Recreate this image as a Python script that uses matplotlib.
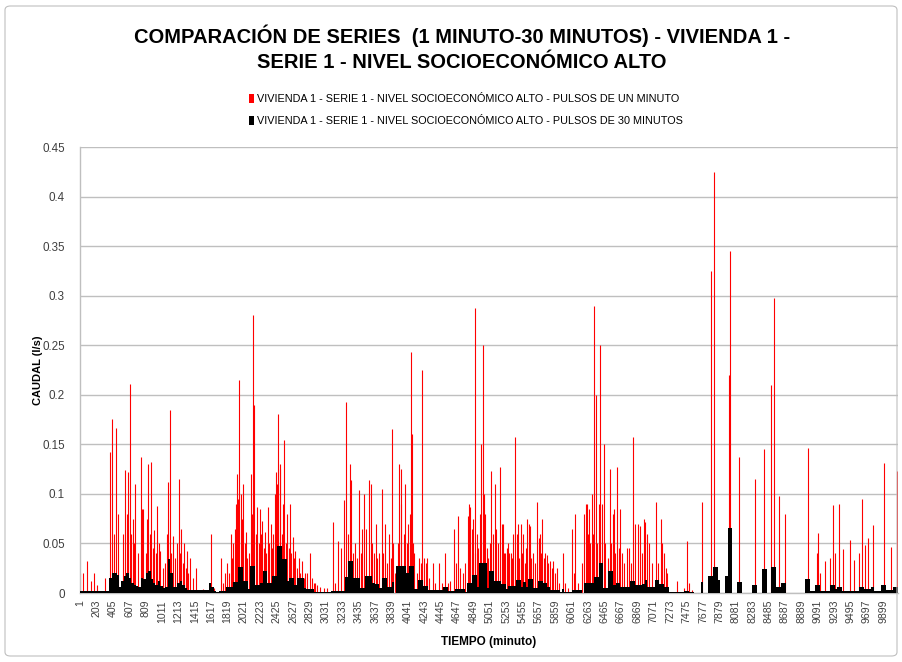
import matplotlib
matplotlib.use("Agg")
import matplotlib.pyplot as plt
from matplotlib.patches import Patch, FancyBboxPatch
from matplotlib import font_manager
import numpy as np

# --- data -----------------------------------------------------------------
n_minutes = 10080
tick_start, tick_step = 1, 202

# one-minute pulses: minute index and flow (l/s)
red_minutes = [
    1, 42, 92, 133, 175, 215, 311, 373, 397, 414, 443, 463, 525, 554, 580, 592,
    612, 633, 649, 666, 682, 716, 748, 765, 782, 810, 827, 844, 865, 881, 902,
    918, 939, 955, 971, 988, 1021, 1042, 1075, 1091, 1104, 1124, 1145, 1169,
    1191, 1219, 1236, 1249, 1265, 1281, 1302, 1318, 1335, 1352, 1393, 1434,
    1517, 1620, 1653, 1744, 1764, 1785, 1814, 1835, 1856, 1872, 1888, 1905,
    1921, 1938, 1950, 1963, 1980, 1996, 2012, 2029, 2046, 2062, 2087, 2108,
    2124, 2136, 2148, 2165, 2186, 2202, 2219, 2235, 2248, 2265, 2281, 2297,
    2314, 2331, 2351, 2368, 2384, 2401, 2413, 2430, 2446, 2459, 2467, 2488,
    2500, 2516, 2533, 2550, 2570, 2587, 2603, 2620, 2637, 2653, 2674, 2694,
    2715, 2736, 2764, 2776, 2797, 2830, 2859, 2880, 2900, 2921, 2962, 3003,
    3045, 3115, 3148, 3181, 3218, 3251, 3280, 3305, 3325, 3342, 3367, 3387,
    3408, 3437, 3458, 3479, 3499, 3528, 3557, 3582, 3602, 3623, 3644, 3665,
    3685, 3718, 3739, 3759, 3780, 3805, 3830, 3846, 3863, 3883, 3913, 3932,
    3950, 3962, 3987, 4007, 4028, 4044, 4065, 4077, 4090, 4106, 4118, 4152,
    4180, 4201, 4218, 4243, 4259, 4276, 4304, 4346, 4379, 4421, 4458, 4503,
    4532, 4565, 4614, 4639, 4664, 4689, 4718, 4750, 4780, 4800, 4812, 4833,
    4849, 4862, 4874, 4891, 4903, 4924, 4945, 4965, 4978, 4994, 5010, 5027,
    5048, 5069, 5089, 5110, 5131, 5151, 5180, 5196, 5213, 5225, 5242, 5258,
    5275, 5291, 5308, 5325, 5337, 5366, 5382, 5399, 5415, 5432, 5449, 5461,
    5481, 5502, 5514, 5531, 5543, 5564, 5585, 5605, 5638, 5655, 5667, 5680,
    5697, 5713, 5729, 5750, 5771, 5791, 5812, 5833, 5853, 5874, 5903, 5957,
    5977, 6019, 6068, 6085, 6101, 6143, 6192, 6217, 6233, 6250, 6262, 6275,
    6291, 6308, 6320, 6332, 6357, 6374, 6390, 6411, 6432, 6452, 6473, 6502,
    6527, 6547, 6564, 6576, 6597, 6622, 6639, 6659, 6680, 6709, 6742, 6771,
    6796, 6820, 6845, 6874, 6899, 6928, 6948, 6969, 6990, 7011, 7052, 7093,
    7126, 7155, 7175, 7196, 7216, 7237, 7352, 7443, 7476, 7505, 7546, 7670,
    7782, 7810, 7992, 8008, 8124, 8318, 8435, 8517, 8554, 8620, 8682, 8971,
    9078, 9091, 9120, 9182, 9244, 9277, 9306, 9359, 9401, 9483, 9537, 9599,
    9632, 9670, 9711, 9773, 9909, 9991, 10074,
]
red_values = [
    0.020, 0.020, 0.032, 0.012, 0.020, 0.008, 0.015, 0.142, 0.176, 0.060, 0.166,
    0.080, 0.060, 0.124, 0.080, 0.122, 0.211, 0.060, 0.075, 0.050, 0.110,
    0.040, 0.137, 0.085, 0.085, 0.040, 0.075, 0.130, 0.060, 0.132, 0.045,
    0.064, 0.040, 0.088, 0.050, 0.042, 0.025, 0.030, 0.060, 0.112, 0.185,
    0.040, 0.058, 0.035, 0.050, 0.115, 0.040, 0.065, 0.030, 0.050, 0.025,
    0.042, 0.020, 0.035, 0.015, 0.025, 0.004, 0.060, 0.005, 0.035, 0.010,
    0.020, 0.030, 0.020, 0.060, 0.035, 0.050, 0.065, 0.090, 0.120, 0.095,
    0.215, 0.100, 0.075, 0.110, 0.050, 0.062, 0.035, 0.040, 0.120, 0.080,
    0.280, 0.190, 0.060, 0.087, 0.050, 0.085, 0.060, 0.073, 0.045, 0.062,
    0.040, 0.087, 0.050, 0.070, 0.045, 0.060, 0.100, 0.122, 0.110, 0.181,
    0.130, 0.125, 0.060, 0.090, 0.154, 0.050, 0.080, 0.045, 0.090, 0.040,
    0.056, 0.035, 0.042, 0.025, 0.035, 0.020, 0.032, 0.015, 0.020, 0.020,
    0.040, 0.015, 0.010, 0.010, 0.008, 0.006, 0.005, 0.005, 0.072, 0.010,
    0.052, 0.045, 0.094, 0.193, 0.060, 0.130, 0.114, 0.040, 0.050, 0.035,
    0.104, 0.040, 0.065, 0.100, 0.065, 0.114, 0.110, 0.050, 0.040, 0.070,
    0.035, 0.040, 0.105, 0.040, 0.070, 0.030, 0.060, 0.035, 0.165, 0.050,
    0.020, 0.050, 0.130, 0.090, 0.125, 0.060, 0.110, 0.050, 0.070, 0.080,
    0.243, 0.160, 0.050, 0.040, 0.020, 0.035, 0.030, 0.225, 0.035, 0.030,
    0.035, 0.015, 0.030, 0.010, 0.030, 0.010, 0.040, 0.010, 0.012, 0.065,
    0.030, 0.078, 0.025, 0.020, 0.030, 0.078, 0.090, 0.087, 0.065, 0.075,
    0.040, 0.288, 0.060, 0.045, 0.080, 0.150, 0.250, 0.100, 0.080, 0.045,
    0.035, 0.050, 0.123, 0.060, 0.110, 0.065, 0.050, 0.127, 0.070, 0.070,
    0.040, 0.040, 0.045, 0.050, 0.040, 0.040, 0.035, 0.060, 0.157, 0.060,
    0.070, 0.035, 0.070, 0.040, 0.060, 0.030, 0.045, 0.075, 0.070, 0.068,
    0.035, 0.040, 0.030, 0.092, 0.055, 0.060, 0.040, 0.075, 0.035, 0.040,
    0.038, 0.030, 0.032, 0.025, 0.032, 0.020, 0.025, 0.010, 0.040, 0.010,
    0.005, 0.065, 0.020, 0.080, 0.010, 0.030, 0.080, 0.090, 0.090, 0.060,
    0.085, 0.050, 0.100, 0.060, 0.290, 0.200, 0.050, 0.090, 0.250, 0.090,
    0.150, 0.050, 0.035, 0.125, 0.050, 0.080, 0.085, 0.040, 0.127, 0.045,
    0.085, 0.040, 0.030, 0.045, 0.045, 0.030, 0.157, 0.070, 0.070, 0.068,
    0.040, 0.075, 0.072, 0.060, 0.050, 0.030, 0.092, 0.030, 0.075, 0.050,
    0.040, 0.025, 0.020, 0.012, 0.005, 0.052, 0.010, 0.003, 0.092, 0.325,
    0.425, 0.220, 0.345, 0.137, 0.115, 0.145, 0.210, 0.298, 0.098, 0.080,
    0.146, 0.040, 0.061, 0.020, 0.032, 0.035, 0.089, 0.040, 0.090, 0.044,
    0.053, 0.033, 0.040, 0.095, 0.048, 0.055, 0.069, 0.131, 0.046, 0.123,
]

# thirty-minute pulses: one value per half-hour block (336 blocks)
black_values = [
    .002, .002, .002, .002, .002, .002, .002, .002, .002, .002, .002, .002,
    .015, .020, .020, .018, .006, .012, .017, .020, .015, .010, .008, .007,
    .006, .015, .014, .020, .022, .014, .010, .008, .012, .007, .005, .006,
    .034, .020, .006, .006, .010, .012, .008, .005, .003, .003, .003, .003,
    .003, .003, .003, .003, .003, .010, .006, .002, .001, .002, .002, .002,
    .006, .006, .006, .011, .011, .026, .026, .012, .012, .004, .027, .027,
    .008, .008, .010, .022, .022, .010, .010, .017, .017, .047, .047, .034,
    .034, .012, .015, .015, .008, .015, .015, .015, .005, .004, .004, .004,
    .001, .001, .001, .001, .001, .001, .001, .002, .002, .002, .002, .002,
    .002, .016, .032, .032, .015, .015, .015, .005, .005, .017, .017, .017,
    .010, .009, .009, .005, .015, .015, .006, .006, .011, .000, .027, .027,
    .027, .027, .020, .027, .027, .004, .004, .013, .013, .007, .007, .003,
    .003, .003, .003, .003, .003, .006, .006, .002, .002, .002, .004, .004,
    .004, .004, .001, .010, .010, .018, .018, .006, .030, .030, .030, .005,
    .022, .022, .012, .012, .012, .009, .009, .004, .007, .007, .007, .013,
    .013, .006, .011, .006, .014, .014, .005, .005, .012, .012, .010, .010,
    .006, .003, .003, .003, .003, .001, .004, .001, .001, .001, .003, .003,
    .003, .003, .000, .010, .010, .010, .010, .016, .016, .030, .030, .005,
    .005, .022, .022, .008, .010, .010, .006, .006, .006, .006, .012, .012,
    .008, .008, .008, .009, .013, .006, .006, .006, .013, .013, .009, .009,
    .006, .006, .001, .001, .001, .001, .001, .001, .002, .002, .001, .001,
    .000, .000, .000, .011, .000, .000, .017, .017, .026, .026, .013, .000,
    .000, .017, .066, .066, .000, .000, .011, .011, .000, .000, .000, .000,
    .008, .008, .000, .000, .024, .024, .000, .000, .026, .026, .006, .006,
    .010, .010, .000, .000, .000, .000, .000, .000, .000, .000, .014, .014,
    .002, .002, .008, .008, .002, .002, .002, .002, .008, .008, .004, .006,
    .006, .002, .002, .002, .002, .002, .002, .002, .006, .006, .004, .004,
    .004, .006, .002, .002, .002, .008, .008, .003, .003, .003, .006, .006,
]
block_len = 30

title_text = ("COMPARACIÓN DE SERIES  (1 MINUTO-30 MINUTOS) - VIVIENDA 1 -\n"
              "SERIE 1 - NIVEL SOCIOECONÓMICO ALTO")
legend_labels = [
    "VIVIENDA 1 - SERIE 1 - NIVEL SOCIOECONÓMICO ALTO - PULSOS DE UN MINUTO",
    "VIVIENDA 1 - SERIE 1 - NIVEL SOCIOECONÓMICO ALTO - PULSOS DE 30 MINUTOS",
]

# --- fonts ------------------------------------------------------------------
available = {f.name for f in font_manager.fontManager.ttflist}
base_font = [f for f in ["Liberation Sans", "Arial", "DejaVu Sans"] if f in available]
plt.rcParams["font.family"] = base_font

# --- figure -----------------------------------------------------------------
W, H = 902, 662
fig = plt.figure(figsize=(W / 100, H / 100), dpi=100)
fig.patch.set_facecolor("white")

# chart-area frame
fig.patches.append(FancyBboxPatch((5 / W, 6 / H), 892 / W, 650 / H,
                                  boxstyle="round,pad=0,rounding_size=0.006",
                                  transform=fig.transFigure, fill=False,
                                  edgecolor="#BFBFBF", linewidth=0.8))

ax = fig.add_axes([80 / W, 1 - 593 / H, 818 / W, 446 / H])

# one-minute series as thin columns
ax.vlines(red_minutes, 0, red_values, colors="#FF0000", linewidth=0.8, zorder=2)

# thirty-minute series as solid blocks
block_left = np.arange(len(black_values)) * block_len + 0.5
ax.bar(block_left, black_values, width=block_len, align="edge",
       color="black", linewidth=0, zorder=3)

ax.set_xlim(0.5, n_minutes + 0.5)
ax.set_ylim(0, 0.45)
ax.set_yticks(np.arange(0, 0.451, 0.05))
ax.set_yticklabels(["0", "0.05", "0.1", "0.15", "0.2", "0.25", "0.3",
                    "0.35", "0.4", "0.45"])
xt = list(range(tick_start, n_minutes, tick_step))
ax.set_xticks(xt)
ax.set_xticklabels([str(v) for v in xt], rotation=90)

ax.tick_params(axis="y", length=0, labelsize=8.4, colors="#404040", pad=11)
ax.tick_params(axis="x", length=0, labelsize=7.6, colors="#404040", pad=5)
ax.grid(axis="y", color="#BFBFBF", linewidth=1.0, zorder=0)
ax.set_axisbelow(True)
for side in ["top", "right"]:
    ax.spines[side].set_visible(False)
ax.spines["left"].set_color("#BFBFBF")
ax.spines["bottom"].set_color("#BFBFBF")
ax.spines["left"].set_linewidth(1.0)
ax.spines["bottom"].set_linewidth(1.0)

ax.set_ylabel("CAUDAL (l/s)", fontsize=8, fontweight="bold", labelpad=-1)
ax.set_xlabel("TIEMPO (minuto)", fontsize=8.5, fontweight="bold", labelpad=9)

fig.text(462 / W, 1 - 48 / H, title_text, ha="center", va="center",
         fontsize=14.5, fontweight="bold", linespacing=1.42, color="black")

handles = [Patch(facecolor="#FF0000", edgecolor="none"),
           Patch(facecolor="black", edgecolor="none")]
fig.legend(handles, legend_labels, loc="center", bbox_to_anchor=(466 / W, 1 - 110 / H),
           ncol=1, frameon=False, fontsize=7.8, handlelength=0.45, handleheight=0.9,
           handletextpad=0.35, labelspacing=1.15)

fig.savefig("out.png", dpi=100, facecolor="white")
